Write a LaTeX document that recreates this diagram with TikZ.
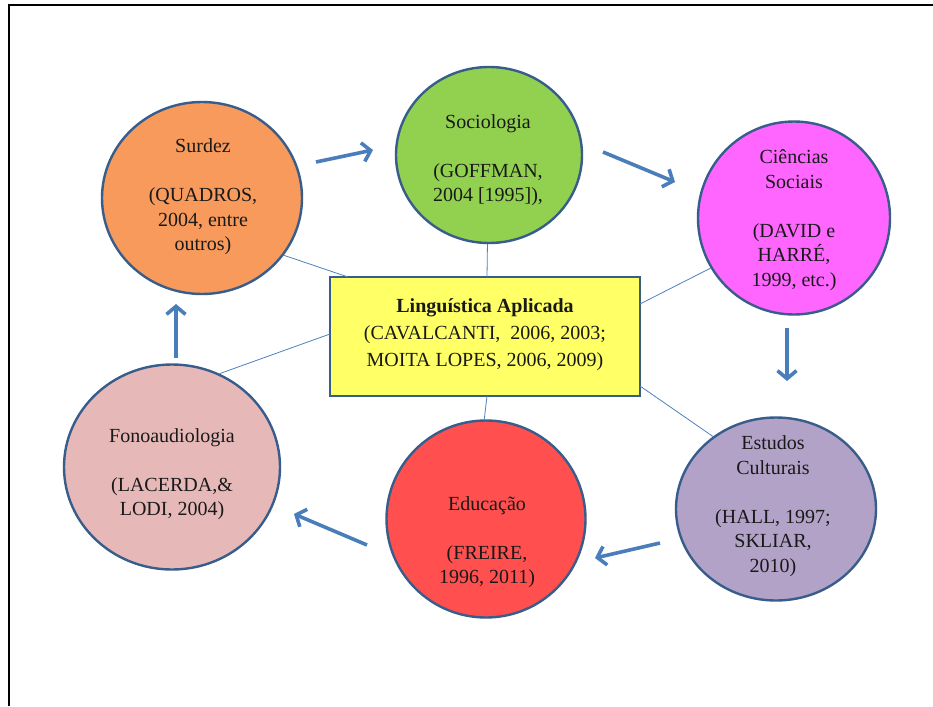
\documentclass[tikz,border=0pt]{standalone}
\usepackage{fontspec}
\setmainfont{Liberation Serif}
\usetikzlibrary{shapes.geometric,arrows.meta}
\definecolor{circB}{HTML}{385D8A}
\definecolor{lineB}{HTML}{4F81BD}
\definecolor{arrB}{HTML}{4A7EBB}
\definecolor{cSurdez}{HTML}{F79A5C}
\definecolor{cSoc}{HTML}{92D050}
\definecolor{cCien}{HTML}{FF66FF}
\definecolor{cEst}{HTML}{B3A2C7}
\definecolor{cEdu}{HTML}{FF4F4F}
\definecolor{cFono}{HTML}{E6B9B8}
\definecolor{cYel}{HTML}{FFFF66}
\begin{document}
\begin{tikzpicture}[x=1pt,y=-1pt,
  circ/.style={ellipse, draw=circB, line width=2.4pt, inner sep=0pt},
  txt/.style={align=center, font=\fontsize{20}{24.5}\selectfont, text=black!90},
  link/.style={draw=lineB, line width=0.8pt},
  flow/.style={draw=arrB, line width=3.6pt, -{Straight Barb[length=8pt,width=19pt]}}]
\useasboundingbox (0,0) rectangle (933,706);
\fill[white] (0,0) rectangle (933,706);
\draw[line width=2pt] (8.5,706) -- (8.5,5.5) -- (933,5.5);

% circles
\node[circ, fill=cSurdez, minimum width=200pt, minimum height=192pt] (surdez) at (202,198) {};
\node[circ, fill=cSoc, minimum width=186pt, minimum height=176pt] (soc) at (489,155) {};
\node[circ, fill=cCien, minimum width=192pt, minimum height=193pt] (cien) at (794,218) {};
\node[circ, fill=cEst, minimum width=200pt, minimum height=183pt] (est) at (776,509) {};
\node[circ, fill=cEdu, minimum width=199pt, minimum height=197pt] (edu) at (486,519) {};
\node[circ, fill=cFono, minimum width=216pt, minimum height=205pt] (fono) at (172,467) {};

% central box
\node[draw=circB, line width=2.4pt, fill=cYel, minimum width=310pt, minimum height=119pt] (la) at (485,336.5) {};
\coordinate (laS) at (348,277);
\coordinate (laF) at (330,334);
\coordinate (laN) at (487,277);
\coordinate (laC) at (640,304);
\coordinate (laE) at (640,386);
\coordinate (laB) at (487,396);

% thin links
\draw[link] (surdez.-35) -- (laS);
\draw[link] (fono.63) -- (laF);
\draw[link] (soc.-91) -- (laN);
\draw[link] (cien.211) -- (laC);
\draw[link] (est.131) -- (laE);
\draw[link] (edu.91) -- (laB);

% texts
\node[txt] (tSurdez) at (203,197) {Surdez\\[24.5pt](QUADROS,\\2004, entre\\outros)};
\node[txt] (tSoc) at (488,160) {Sociologia\\[24.5pt](GOFFMAN,\\2004 [1995]),};
\node[txt] (tCien) at (794,220) {Ciências\\Sociais\\[24.5pt](DAVID e\\HARRÉ,\\1999, etc.)};
\node[txt] (tEst) at (773,506) {Estudos\\Culturais\\[24.5pt](HALL, 1997;\\SKLIAR,\\2010)};
\node[txt] (tEdu) at (487,542) {Educação\\[24.5pt](FREIRE,\\1996, 2011)};
\node[txt] (tFono) at (172,474) {Fonoaudiologia\\[24.5pt](LACERDA,\&\\LODI, 2004)};
\node[align=center, font=\fontsize{20}{27}\selectfont, text=black!90] (tLa) at (485,335)
  {\textbf{Linguística Aplicada}\\(CAVALCANTI,\ \ 2006, 2003;\\MOITA LOPES,\ 2006, 2009)};

% flow arrows
\coordinate (a1s) at (316,162); \coordinate (a1e) at (373,150);
\coordinate (a2s) at (603,152); \coordinate (a2e) at (675,182);
\coordinate (a3s) at (787,328); \coordinate (a3e) at (787,381);
\coordinate (a4s) at (660,543); \coordinate (a4e) at (595,558);
\coordinate (a5s) at (367,545); \coordinate (a5e) at (294,514);
\coordinate (a6s) at (176,358); \coordinate (a6e) at (176,304);
\draw[flow] (a1s) -- (a1e);
\draw[flow] (a2s) -- (a2e);
\draw[flow] (a3s) -- (a3e);
\draw[flow] (a4s) -- (a4e);
\draw[flow] (a5s) -- (a5e);
\draw[flow] (a6s) -- (a6e);
\end{tikzpicture}
\end{document}
